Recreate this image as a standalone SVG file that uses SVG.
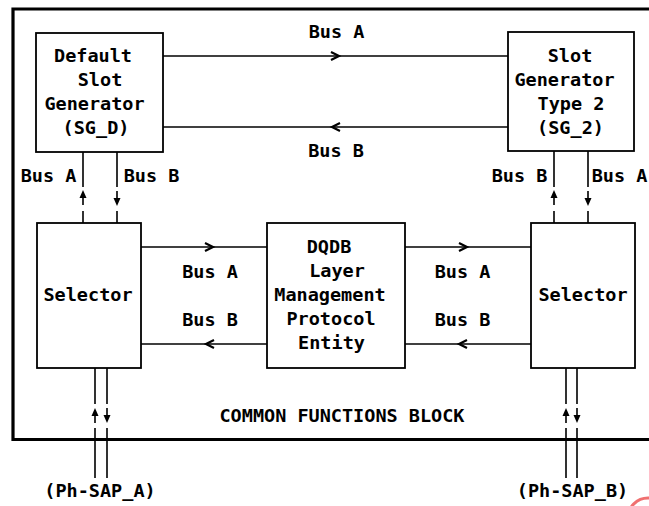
<svg xmlns="http://www.w3.org/2000/svg" width="649" height="506" viewBox="0 0 649 506">
  <style>
    .box { fill: #fff; stroke: #000; stroke-width: 1.8; }
    .ln { fill: none; stroke: #000; stroke-width: 1.6; }
    .chev { fill: none; stroke: #000; stroke-width: 2.2; stroke-linejoin: miter; }
    .ah { fill: #000; stroke: none; }
    .border { fill: none; stroke: #000; stroke-width: 3.2; }
    text { font-family: "DejaVu Sans Mono", "Liberation Mono", monospace; font-size: 18.5px; font-weight: bold; fill: #000; text-anchor: middle; }
  </style>
  <rect width="649" height="506" fill="#fff"/>

  <g id="frame">
    <path class="border" d="M649,9 H13 V439.5 H649"/>
    <text x="342" y="422">COMMON FUNCTIONS BLOCK</text>
  </g>

  <g id="connectors">
    <path class="ln" d="M163,56 H508"/>
    <path class="chev" d="M331,52 L339,56 L331,60"/>
    <path class="ln" d="M163,127 H508"/>
    <path class="chev" d="M340,123 L332,127 L340,131"/>
    <path class="ln" d="M141,247 H267"/>
    <path class="chev" d="M205,243 L213,247 L205,251"/>
    <path class="ln" d="M141,344 H267"/>
    <path class="chev" d="M214,340 L206,344 L214,348"/>
    <path class="ln" d="M405,247 H531"/>
    <path class="chev" d="M459,243 L467,247 L459,251"/>
    <path class="ln" d="M405,344 H531"/>
    <path class="chev" d="M467,340 L459,344 L467,348"/>
    <path class="ln" d="M83,152 V187 M83,211 V223 M83,205 V196"/>
    <path class="ah" d="M79.5,198 L83,190 L86.5,198 Z"/>
    <path class="ln" d="M117,152 V187 M117,211 V223 M117,191 V200"/>
    <path class="ah" d="M113.5,198 L117,206 L120.5,198 Z"/>
    <path class="ln" d="M554,151 V187 M554,211 V223 M554,205 V196"/>
    <path class="ah" d="M550.5,198 L554,190 L557.5,198 Z"/>
    <path class="ln" d="M588,151 V187 M588,211 V223 M588,191 V200"/>
    <path class="ah" d="M584.5,198 L588,206 L591.5,198 Z"/>
    <path class="ln" d="M95,368 V404 M95,428 V478 M95,423 V414"/>
    <path class="ah" d="M91.5,416 L95,408 L98.5,416 Z"/>
    <path class="ln" d="M107,368 V404 M107,428 V478 M107,408 V417"/>
    <path class="ah" d="M103.5,415 L107,423 L110.5,415 Z"/>
    <path class="ln" d="M566,368 V404 M566,428 V478 M566,423 V414"/>
    <path class="ah" d="M562.5,416 L566,408 L569.5,416 Z"/>
    <path class="ln" d="M577,368 V404 M577,428 V478 M577,408 V417"/>
    <path class="ah" d="M573.5,415 L577,423 L580.5,415 Z"/>
    <text x="336.5" y="38">Bus A</text>
    <text x="336" y="157">Bus B</text>
    <text x="48.5" y="182">Bus A</text>
    <text x="151.5" y="182">Bus B</text>
    <text x="519.5" y="182">Bus B</text>
    <text x="619.5" y="182">Bus A</text>
    <text x="210" y="278">Bus A</text>
    <text x="210" y="326">Bus B</text>
    <text x="462.5" y="278">Bus A</text>
    <text x="462.5" y="326">Bus B</text>
    <text x="100" y="497">(Ph-SAP_A)</text>
    <text x="572.5" y="497">(Ph-SAP_B)</text>
  </g>

  <g id="sg_d">
    <rect class="box" x="36" y="33" width="127" height="119"/>
    <text x="93" y="62">Default</text>
    <text x="100" y="86">Slot</text>
    <text x="94.5" y="110">Generator</text>
    <text x="96" y="134">(SG_D)</text>
  </g>

  <g id="sg_2">
    <rect class="box" x="508" y="32" width="126" height="119"/>
    <text x="570" y="62">Slot</text>
    <text x="564.5" y="86">Generator</text>
    <text x="571" y="110">Type 2</text>
    <text x="570.5" y="134">(SG_2)</text>
  </g>

  <g id="selector_left">
    <rect class="box" x="37" y="223" width="104" height="145"/>
    <text x="88" y="301">Selector</text>
  </g>

  <g id="lmpe">
    <rect class="box" x="267" y="223" width="138" height="145"/>
    <text x="329" y="253">DQDB</text>
    <text x="337" y="277">Layer</text>
    <text x="330" y="301">Management</text>
    <text x="331" y="325">Protocol</text>
    <text x="331.5" y="349">Entity</text>
  </g>

  <g id="selector_right">
    <rect class="box" x="531" y="223" width="104" height="145"/>
    <text x="583" y="301">Selector</text>
  </g>

  <circle cx="648" cy="518" r="20" fill="none" stroke="#f07070" stroke-width="3"/>
</svg>
